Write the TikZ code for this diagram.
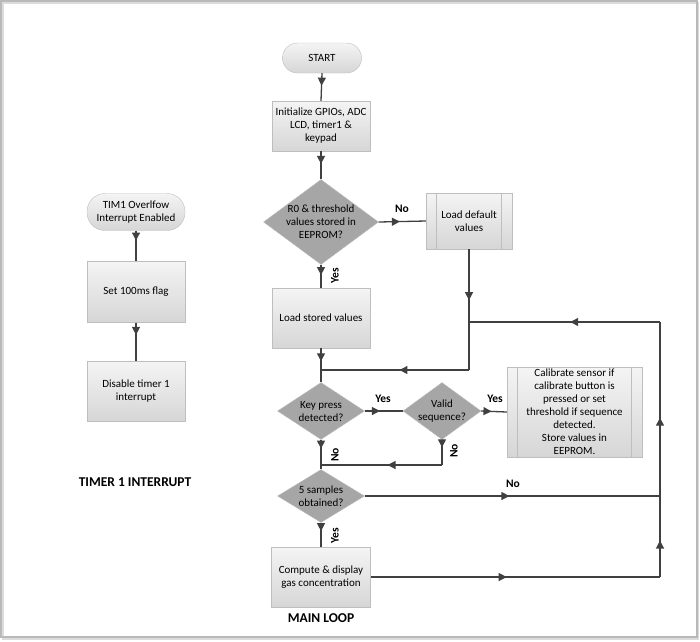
\documentclass[tikz,border=0pt]{standalone}
\usepackage{fontspec}
\setmainfont{Carlito}
\usetikzlibrary{shapes.geometric,arrows.meta,decorations.markings}
\definecolor{lineC}{RGB}{64,64,64}
\definecolor{boxTop}{RGB}{244,244,244}
\definecolor{boxBot}{RGB}{214,214,214}
\definecolor{boxEdge}{RGB}{190,190,190}
\definecolor{diaFill}{RGB}{166,166,166}
\definecolor{frameC}{RGB}{185,185,185}
\definecolor{shadowC}{RGB}{220,220,220}
\tikzset{
  txt/.style={font=\fontsize{11}{13}\selectfont, align=center},
  pbox/.style={rectangle, draw=boxEdge, top color=boxTop, bottom color=boxBot, inner sep=0pt, txt},
  term/.style={pbox, rounded corners=#1},
  dia/.style={diamond, draw=boxEdge, fill=diaFill, inner sep=0pt},
  conn/.style={draw=lineC, line width=1.3pt},
  marr/.style={postaction={decorate, decoration={markings, mark=at position #1 with {\arrow[lineC]{Triangle[length=8pt,width=8pt]}}}}},
  lbl/.style={font=\fontsize{11.5}{13}\bfseries\selectfont, inner sep=0pt},
  ttl/.style={font=\fontsize{13.5}{15}\bfseries\selectfont, inner sep=0pt},
}
\begin{document}
\begin{tikzpicture}[x=1pt, y=-1pt]
\useasboundingbox (0,0) rectangle (700,641);
% frame
\draw[shadowC, line width=1.5pt] (3,3) rectangle (698.5,639);
\draw[frameC, line width=1.5pt] (1,1) rectangle (697,637);

% main column nodes
\node[term=15pt, minimum width=79, minimum height=30] (start) at (322,58) {START};
\node[pbox, minimum width=98, minimum height=50] (init) at (321,126) {Initialize GPIOs, ADC\\LCD, timer1 \&\\keypad};
\node[dia, minimum width=115, minimum height=85] (d1) at (321,222) {};
\node[txt] (d1t) at (d1.center) {R0 \& threshold\\values stored in\\EEPROM?};
\node[pbox, minimum width=86, minimum height=56] (ldef) at (469,221) {Load default\\values};
\node[pbox, minimum width=98, minimum height=60] (lsto) at (321,318) {Load stored values};
\coordinate (j1) at (321,370);
\node[dia, minimum width=87, minimum height=57] (d2) at (321,411) {};
\node[txt] (d2t) at (d2.center) {Key press\\detected?};
\node[dia, minimum width=78, minimum height=57] (d3) at (442,411) {};
\node[txt] (d3t) at (d3.center) {Valid\\sequence?};
\node[pbox, minimum width=135, minimum height=90] (cal) at (574.5,412) {Calibrate sensor if\\calibrate button is\\pressed or set\\threshold if sequence\\detected.\\Store values in\\EEPROM.};
\coordinate (j2) at (321,465);
\coordinate (d3n) at (442,465);
\node[dia, minimum width=87, minimum height=53] (d4) at (321,496) {};
\node[txt] (d4t) at (d4.center) {5 samples\\obtained?};
\node[pbox, minimum width=99, minimum height=60] (comp) at (321,577) {Compute \& display\\gas concentration};
\coordinate (rb) at (660,577);
\coordinate (rm) at (660,496);
\coordinate (rt) at (660,322);
\coordinate (lt) at (469,322);
\coordinate (lb) at (469,370);

% predefined-process inner lines
\draw[boxEdge, line width=0.8pt] ([xshift=11]ldef.north west) -- ([xshift=11]ldef.south west);
\draw[boxEdge, line width=0.8pt] ([xshift=-11]ldef.north east) -- ([xshift=-11]ldef.south east);
\draw[boxEdge, line width=0.8pt] ([xshift=11]cal.north west) -- ([xshift=11]cal.south west);
\draw[boxEdge, line width=0.8pt] ([xshift=-11]cal.north east) -- ([xshift=-11]cal.south east);

% timer column
\node[term=18pt, minimum width=98, minimum height=37] (tim) at (136,212) {TIM1 Overlfow\\Interrupt Enabled};
\node[pbox, minimum width=98, minimum height=61] (flag) at (136,292) {Set 100ms flag};
\node[pbox, minimum width=98, minimum height=60] (dis) at (136,391) {Disable timer 1\\interrupt};

% connectors
\draw[conn, marr=0.45] (start.south) -- (init.north);
\draw[conn, marr=0.45] (init.south) -- (d1.north);
\draw[conn, marr=0.45] (d1.east) -- (ldef.west);
\draw[conn, marr=0.45] (d1.south) -- (lsto.north);
\draw[conn, marr=0.7] (ldef.south) -- (lt);
\draw[conn] (lt) -- (lb);
\draw[conn, marr=0.47] (lb) -- (j1);
\draw[conn, marr=0.6] (lsto.south) -- (j1);
\draw[conn] (j1) -- (d2.north);
\draw[conn, marr=0.4] (d2.east) -- (d3.west);
\draw[conn, marr=0.4] (d3.east) -- (cal.west);
\draw[conn, marr=0.3] (d3.south) -- (d3n);
\draw[conn, marr=0.45] (d3n) -- (j2);
\draw[conn, marr=0.35] (d2.south) -- (j2);
\draw[conn] (j2) -- (d4.north);
\draw[conn, marr=0.49] (d4.east) -- (rm);
\draw[conn, marr=0.35] (d4.south) -- (comp.north);
\draw[conn, marr=0.47] (comp.east) -- (rb);
\draw[conn, marr=0.45] (rb) -- (rm);
\draw[conn, marr=0.45] (rm) -- (rt);
\draw[conn, marr=0.47] (rt) -- (lt);
\draw[conn, marr=0.32] (tim.south) -- (flag.north);
\draw[conn, marr=0.32] (flag.south) -- (dis.north);

% labels
\node[lbl] (l1) at (402,209) {No};
\node[lbl, rotate=90] (l2) at (335,276) {Yes};
\node[lbl] (l3) at (383,399) {Yes};
\node[lbl] (l4) at (495,399) {Yes};
\node[lbl, rotate=90] (l5) at (335,455) {No};
\node[lbl, rotate=90] (l6) at (454,451) {No};
\node[lbl] (l7) at (513,484) {No};
\node[lbl, rotate=90] (l8) at (335,536) {Yes};
\node[ttl] (mainloop) at (321,618) {MAIN LOOP};
\node[ttl] (timerint) at (135,482) {TIMER 1 INTERRUPT};
\end{tikzpicture}
\end{document}
